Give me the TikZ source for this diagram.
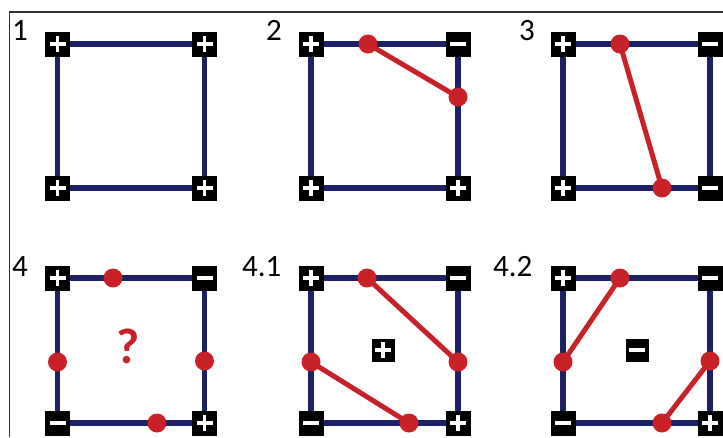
\documentclass[tikz,border=0pt]{standalone}
\usepackage{fontspec}
\setmainfont{Carlito}
\definecolor{navy}{RGB}{28,32,100}
\definecolor{dotred}{RGB}{200,34,40}
\definecolor{framegray}{RGB}{50,50,50}
\tikzset{
  edgeline/.style={draw=navy,line width=5.5pt},
  cutline/.style={draw=dotred,line width=5pt},
  reddot/.style={circle,fill=dotred,inner sep=0pt,minimum size=19pt},
  signbox/.style={rectangle,fill=black,inner sep=0pt,minimum size=25pt},
  plusbox/.style={signbox,path picture={
      \draw[white,line width=3.2pt]
        ([xshift=-8pt]path picture bounding box.center) -- ([xshift=8pt]path picture bounding box.center)
        ([yshift=-8pt]path picture bounding box.center) -- ([yshift=8pt]path picture bounding box.center);}},
  minusbox/.style={signbox,path picture={
      \draw[white,line width=3.2pt]
        ([xshift=-8pt]path picture bounding box.center) -- ([xshift=8pt]path picture bounding box.center);}},
  panellabel/.style={anchor=base west,inner sep=0pt,font=\fontsize{31}{36}\selectfont},
}
\begin{document}
\begin{tikzpicture}[x=1pt,y=-1pt]
\useasboundingbox (0,0) rectangle (723,437);
\clip (0,0) rectangle (723,437);
% frame
\coordinate (fb) at (9.5,437);
\coordinate (ftl) at (9.5,12);
\coordinate (ftr) at (723,12);
\draw[framegray,line width=1.3pt] (fb) -- (ftl) -- (ftr);

% corner coordinates: columns and rows
\foreach \n/\l/\r/\t/\b in {A/57.5/204.5/44/188, B/311/458/44/188, C/563/710/44/188,
                             D/57.5/204.5/278/423, E/311/458/278/423, F/563/710/278/423}{
  \coordinate (\n tl) at (\l,\t);
  \coordinate (\n tr) at (\r,\t);
  \coordinate (\n bl) at (\l,\b);
  \coordinate (\n br) at (\r,\b);
  \draw[edgeline] (\n tl) -- (\n tr) -- (\n br) -- (\n bl) -- cycle;
}

% red crossing points
\coordinate (B1) at (368,44);  \coordinate (B2) at (458,97);
\coordinate (C1) at (620,44);  \coordinate (C2) at (662,188);
\coordinate (D1) at (113,278); \coordinate (D2) at (57.5,362); \coordinate (D3) at (204.5,361); \coordinate (D4) at (157,423);
\coordinate (E1) at (367,278); \coordinate (E2) at (311,362); \coordinate (E3) at (458,362); \coordinate (E4) at (409,423);
\coordinate (F1) at (620,278); \coordinate (F2) at (563,362); \coordinate (F3) at (710,361); \coordinate (F4) at (662,423);

\draw[cutline] (B1) -- (B2);
\draw[cutline] (C1) -- (C2);
\draw[cutline] (E1) -- (E3);
\draw[cutline] (E2) -- (E4);
\draw[cutline] (F1) -- (F2);
\draw[cutline] (F4) -- (F3);

\foreach \p in {B1,B2,C1,C2,D1,D2,D3,D4,E1,E2,E3,E4,F1,F2,F3,F4}
  \node[reddot] (dot\p) at (\p) {};

% sign boxes
\node[plusbox] (sAtl) at (Atl) {};
\node[plusbox] (sAtr) at (Atr) {};
\node[plusbox] (sAbl) at (Abl) {};
\node[plusbox] (sAbr) at (Abr) {};

\node[plusbox] (sBtl) at (Btl) {};
\node[minusbox] (sBtr) at (Btr) {};
\node[plusbox] (sBbl) at (Bbl) {};
\node[plusbox] (sBbr) at (Bbr) {};

\node[plusbox] (sCtl) at (Ctl) {};
\node[minusbox] (sCtr) at (Ctr) {};
\node[plusbox] (sCbl) at (Cbl) {};
\node[minusbox] (sCbr) at (Cbr) {};

\foreach \n in {D,E,F}{
  \node[plusbox] (s\n tl) at (\n tl) {};
  \node[minusbox] (s\n tr) at (\n tr) {};
  \node[minusbox] (s\n bl) at (\n bl) {};
  \node[plusbox] (s\n br) at (\n br) {};
}

% centre marks
\node[text=dotred,font=\bfseries\fontsize{50}{54}\selectfont,inner sep=0pt] (qmark) at (128,346) {?};
\node[plusbox,minimum size=23pt] (cE) at (383,350) {};
\node[minusbox,minimum size=23pt] (cF) at (637,350) {};

% labels
\node[panellabel] (l1) at (12,40) {1};
\node[panellabel] (l2) at (266,40) {2};
\node[panellabel] (l3) at (519,40) {3};
\node[panellabel] (l4) at (12,276) {4};
\node[panellabel] (l41) at (242,276) {4.1};
\node[panellabel] (l42) at (493,276) {4.2};
\end{tikzpicture}
\end{document}
